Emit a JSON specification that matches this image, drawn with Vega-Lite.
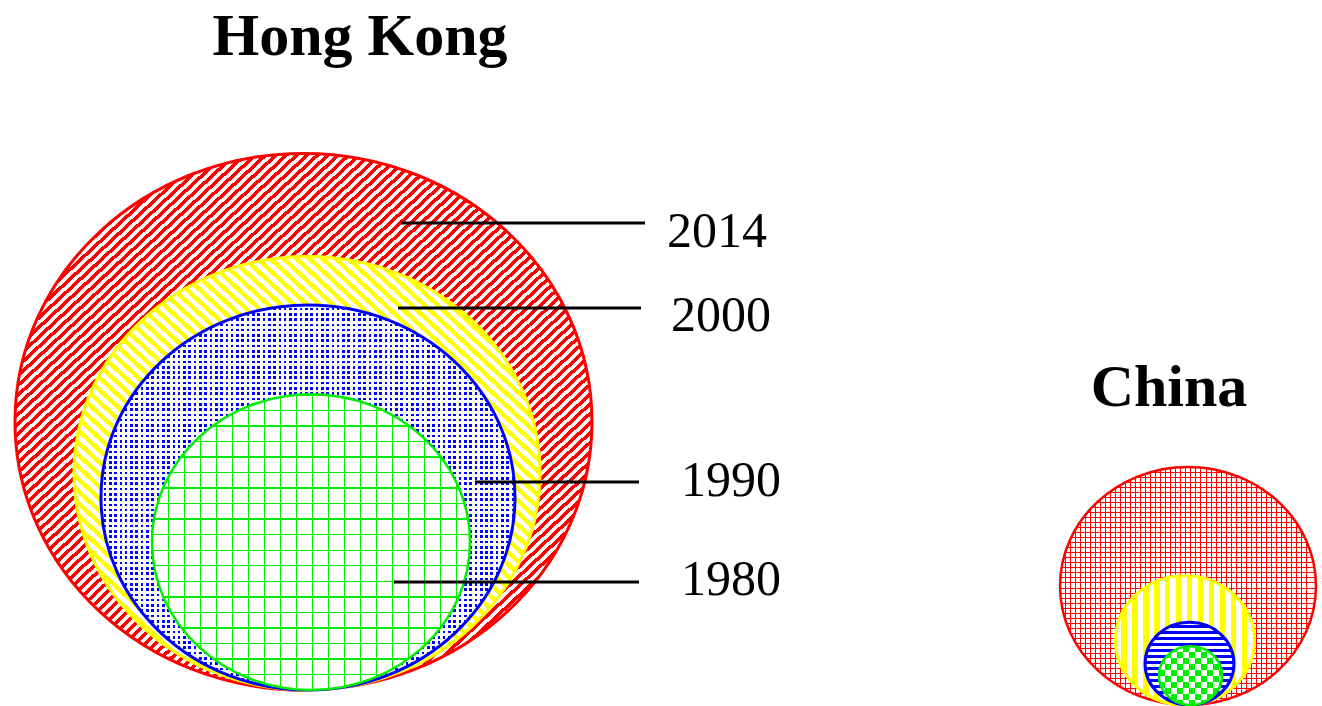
{
"$schema":"https://vega.github.io/schema/vega-lite/v6.json",
"width":1322,"height":706,"padding":0,"autosize":{"type":"none"},
"background":"white",
"config":{"view":{"stroke":null},"point":{"opacity":1},"tick":{"opacity":1}},
"params":[
{"name":"cw","expr":"'#ffffff'"},
{"name":"ct","expr":"'rgba(255,255,255,0)'"},
{"name":"cr","expr":"'#ff0000'"},
{"name":"cg","expr":"'#00ee00'"},
{"name":"W","expr":"[{offset:0,color:cw},{offset:.00625,color:cw},{offset:.00625,color:ct},{offset:.0125,color:ct},{offset:.0125,color:cw},{offset:.01875,color:cw},{offset:.01875,color:ct},{offset:.025,color:ct},{offset:.025,color:cw},{offset:.03125,color:cw},{offset:.03125,color:ct},{offset:.0375,color:ct},{offset:.0375,color:cw},{offset:.04375,color:cw},{offset:.04375,color:ct},{offset:.05,color:ct},{offset:.05,color:cw},{offset:.05625,color:cw},{offset:.05625,color:ct},{offset:.0625,color:ct},{offset:.0625,color:cw},{offset:.06875,color:cw},{offset:.06875,color:ct},{offset:.075,color:ct},{offset:.075,color:cw},{offset:.08125,color:cw},{offset:.08125,color:ct},{offset:.0875,color:ct},{offset:.0875,color:cw},{offset:.09375,color:cw},{offset:.09375,color:ct},{offset:.1,color:ct},{offset:.1,color:cw},{offset:.10625,color:cw},{offset:.10625,color:ct},{offset:.1125,color:ct},{offset:.1125,color:cw},{offset:.11875,color:cw},{offset:.11875,color:ct},{offset:.125,color:ct},{offset:.125,color:cw},{offset:.13125,color:cw},{offset:.13125,color:ct},{offset:.1375,color:ct},{offset:.1375,color:cw},{offset:.14375,color:cw},{offset:.14375,color:ct},{offset:.15,color:ct},{offset:.15,color:cw},{offset:.15625,color:cw},{offset:.15625,color:ct},{offset:.1625,color:ct},{offset:.1625,color:cw},{offset:.16875,color:cw},{offset:.16875,color:ct},{offset:.175,color:ct},{offset:.175,color:cw},{offset:.18125,color:cw},{offset:.18125,color:ct},{offset:.1875,color:ct},{offset:.1875,color:cw},{offset:.19375,color:cw},{offset:.19375,color:ct},{offset:.2,color:ct},{offset:.2,color:cw},{offset:.20625,color:cw},{offset:.20625,color:ct},{offset:.2125,color:ct},{offset:.2125,color:cw},{offset:.21875,color:cw},{offset:.21875,color:ct},{offset:.225,color:ct},{offset:.225,color:cw},{offset:.23125,color:cw},{offset:.23125,color:ct},{offset:.2375,color:ct},{offset:.2375,color:cw},{offset:.24375,color:cw},{offset:.24375,color:ct},{offset:.25,color:ct},{offset:.25,color:cw},{offset:.25625,color:cw},{offset:.25625,color:ct},{offset:.2625,color:ct},{offset:.2625,color:cw},{offset:.26875,color:cw},{offset:.26875,color:ct},{offset:.275,color:ct},{offset:.275,color:cw},{offset:.28125,color:cw},{offset:.28125,color:ct},{offset:.2875,color:ct},{offset:.2875,color:cw},{offset:.29375,color:cw},{offset:.29375,color:ct},{offset:.3,color:ct},{offset:.3,color:cw},{offset:.30625,color:cw},{offset:.30625,color:ct},{offset:.3125,color:ct},{offset:.3125,color:cw},{offset:.31875,color:cw},{offset:.31875,color:ct},{offset:.325,color:ct},{offset:.325,color:cw},{offset:.33125,color:cw},{offset:.33125,color:ct},{offset:.3375,color:ct},{offset:.3375,color:cw},{offset:.34375,color:cw},{offset:.34375,color:ct},{offset:.35,color:ct},{offset:.35,color:cw},{offset:.35625,color:cw},{offset:.35625,color:ct},{offset:.3625,color:ct},{offset:.3625,color:cw},{offset:.36875,color:cw},{offset:.36875,color:ct},{offset:.375,color:ct},{offset:.375,color:cw},{offset:.38125,color:cw},{offset:.38125,color:ct},{offset:.3875,color:ct},{offset:.3875,color:cw},{offset:.39375,color:cw},{offset:.39375,color:ct},{offset:.4,color:ct},{offset:.4,color:cw},{offset:.40625,color:cw},{offset:.40625,color:ct},{offset:.4125,color:ct},{offset:.4125,color:cw},{offset:.41875,color:cw},{offset:.41875,color:ct},{offset:.425,color:ct},{offset:.425,color:cw},{offset:.43125,color:cw},{offset:.43125,color:ct},{offset:.4375,color:ct},{offset:.4375,color:cw},{offset:.44375,color:cw},{offset:.44375,color:ct},{offset:.45,color:ct},{offset:.45,color:cw},{offset:.45625,color:cw},{offset:.45625,color:ct},{offset:.4625,color:ct},{offset:.4625,color:cw},{offset:.46875,color:cw},{offset:.46875,color:ct},{offset:.475,color:ct},{offset:.475,color:cw},{offset:.48125,color:cw},{offset:.48125,color:ct},{offset:.4875,color:ct},{offset:.4875,color:cw},{offset:.49375,color:cw},{offset:.49375,color:ct},{offset:.5,color:ct},{offset:.5,color:cw},{offset:.50625,color:cw},{offset:.50625,color:ct},{offset:.5125,color:ct},{offset:.5125,color:cw},{offset:.51875,color:cw},{offset:.51875,color:ct},{offset:.525,color:ct},{offset:.525,color:cw},{offset:.53125,color:cw},{offset:.53125,color:ct},{offset:.5375,color:ct},{offset:.5375,color:cw},{offset:.54375,color:cw},{offset:.54375,color:ct},{offset:.55,color:ct},{offset:.55,color:cw},{offset:.55625,color:cw},{offset:.55625,color:ct},{offset:.5625,color:ct},{offset:.5625,color:cw},{offset:.56875,color:cw},{offset:.56875,color:ct},{offset:.575,color:ct},{offset:.575,color:cw},{offset:.58125,color:cw},{offset:.58125,color:ct},{offset:.5875,color:ct},{offset:.5875,color:cw},{offset:.59375,color:cw},{offset:.59375,color:ct},{offset:.6,color:ct},{offset:.6,color:cw},{offset:.60625,color:cw},{offset:.60625,color:ct},{offset:.6125,color:ct},{offset:.6125,color:cw},{offset:.61875,color:cw},{offset:.61875,color:ct},{offset:.625,color:ct},{offset:.625,color:cw},{offset:.63125,color:cw},{offset:.63125,color:ct},{offset:.6375,color:ct},{offset:.6375,color:cw},{offset:.64375,color:cw},{offset:.64375,color:ct},{offset:.65,color:ct},{offset:.65,color:cw},{offset:.65625,color:cw},{offset:.65625,color:ct},{offset:.6625,color:ct},{offset:.6625,color:cw},{offset:.66875,color:cw},{offset:.66875,color:ct},{offset:.675,color:ct},{offset:.675,color:cw},{offset:.68125,color:cw},{offset:.68125,color:ct},{offset:.6875,color:ct},{offset:.6875,color:cw},{offset:.69375,color:cw},{offset:.69375,color:ct},{offset:.7,color:ct},{offset:.7,color:cw},{offset:.70625,color:cw},{offset:.70625,color:ct},{offset:.7125,color:ct},{offset:.7125,color:cw},{offset:.71875,color:cw},{offset:.71875,color:ct},{offset:.725,color:ct},{offset:.725,color:cw},{offset:.73125,color:cw},{offset:.73125,color:ct},{offset:.7375,color:ct},{offset:.7375,color:cw},{offset:.74375,color:cw},{offset:.74375,color:ct},{offset:.75,color:ct},{offset:.75,color:cw},{offset:.75625,color:cw},{offset:.75625,color:ct},{offset:.7625,color:ct},{offset:.7625,color:cw},{offset:.76875,color:cw},{offset:.76875,color:ct},{offset:.775,color:ct},{offset:.775,color:cw},{offset:.78125,color:cw},{offset:.78125,color:ct},{offset:.7875,color:ct},{offset:.7875,color:cw},{offset:.79375,color:cw},{offset:.79375,color:ct},{offset:.8,color:ct},{offset:.8,color:cw},{offset:.80625,color:cw},{offset:.80625,color:ct},{offset:.8125,color:ct},{offset:.8125,color:cw},{offset:.81875,color:cw},{offset:.81875,color:ct},{offset:.825,color:ct},{offset:.825,color:cw},{offset:.83125,color:cw},{offset:.83125,color:ct},{offset:.8375,color:ct},{offset:.8375,color:cw},{offset:.84375,color:cw},{offset:.84375,color:ct},{offset:.85,color:ct},{offset:.85,color:cw},{offset:.85625,color:cw},{offset:.85625,color:ct},{offset:.8625,color:ct},{offset:.8625,color:cw},{offset:.86875,color:cw},{offset:.86875,color:ct},{offset:.875,color:ct},{offset:.875,color:cw},{offset:.88125,color:cw},{offset:.88125,color:ct},{offset:.8875,color:ct},{offset:.8875,color:cw},{offset:.89375,color:cw},{offset:.89375,color:ct},{offset:.9,color:ct},{offset:.9,color:cw},{offset:.90625,color:cw},{offset:.90625,color:ct},{offset:.9125,color:ct},{offset:.9125,color:cw},{offset:.91875,color:cw},{offset:.91875,color:ct},{offset:.925,color:ct},{offset:.925,color:cw},{offset:.93125,color:cw},{offset:.93125,color:ct},{offset:.9375,color:ct},{offset:.9375,color:cw},{offset:.94375,color:cw},{offset:.94375,color:ct},{offset:.95,color:ct},{offset:.95,color:cw},{offset:.95625,color:cw},{offset:.95625,color:ct},{offset:.9625,color:ct},{offset:.9625,color:cw},{offset:.96875,color:cw},{offset:.96875,color:ct},{offset:.975,color:ct},{offset:.975,color:cw},{offset:.98125,color:cw},{offset:.98125,color:ct},{offset:.9875,color:ct},{offset:.9875,color:cw},{offset:.99375,color:cw},{offset:.99375,color:ct},{offset:1,color:ct}]"},
{"name":"K1","expr":"[{offset:0,color:cr},{offset:.004,color:cr},{offset:.004,color:ct},{offset:.02,color:ct},{offset:.02,color:cr},{offset:.024,color:cr},{offset:.024,color:ct},{offset:.04,color:ct},{offset:.04,color:cr},{offset:.044,color:cr},{offset:.044,color:ct},{offset:.06,color:ct},{offset:.06,color:cr},{offset:.064,color:cr},{offset:.064,color:ct},{offset:.08,color:ct},{offset:.08,color:cr},{offset:.084,color:cr},{offset:.084,color:ct},{offset:.1,color:ct},{offset:.1,color:cr},{offset:.104,color:cr},{offset:.104,color:ct},{offset:.12,color:ct},{offset:.12,color:cr},{offset:.124,color:cr},{offset:.124,color:ct},{offset:.14,color:ct},{offset:.14,color:cr},{offset:.144,color:cr},{offset:.144,color:ct},{offset:.16,color:ct},{offset:.16,color:cr},{offset:.164,color:cr},{offset:.164,color:ct},{offset:.18,color:ct},{offset:.18,color:cr},{offset:.184,color:cr},{offset:.184,color:ct},{offset:.2,color:ct},{offset:.2,color:cr},{offset:.204,color:cr},{offset:.204,color:ct},{offset:.22,color:ct},{offset:.22,color:cr},{offset:.224,color:cr},{offset:.224,color:ct},{offset:.24,color:ct},{offset:.24,color:cr},{offset:.244,color:cr},{offset:.244,color:ct},{offset:.26,color:ct},{offset:.26,color:cr},{offset:.264,color:cr},{offset:.264,color:ct},{offset:.28,color:ct},{offset:.28,color:cr},{offset:.284,color:cr},{offset:.284,color:ct},{offset:.3,color:ct},{offset:.3,color:cr},{offset:.304,color:cr},{offset:.304,color:ct},{offset:.32,color:ct},{offset:.32,color:cr},{offset:.324,color:cr},{offset:.324,color:ct},{offset:.34,color:ct},{offset:.34,color:cr},{offset:.344,color:cr},{offset:.344,color:ct},{offset:.36,color:ct},{offset:.36,color:cr},{offset:.364,color:cr},{offset:.364,color:ct},{offset:.38,color:ct},{offset:.38,color:cr},{offset:.384,color:cr},{offset:.384,color:ct},{offset:.4,color:ct},{offset:.4,color:cr},{offset:.404,color:cr},{offset:.404,color:ct},{offset:.42,color:ct},{offset:.42,color:cr},{offset:.424,color:cr},{offset:.424,color:ct},{offset:.44,color:ct},{offset:.44,color:cr},{offset:.444,color:cr},{offset:.444,color:ct},{offset:.46,color:ct},{offset:.46,color:cr},{offset:.464,color:cr},{offset:.464,color:ct},{offset:.48,color:ct},{offset:.48,color:cr},{offset:.484,color:cr},{offset:.484,color:ct},{offset:.5,color:ct},{offset:.5,color:cr},{offset:.504,color:cr},{offset:.504,color:ct},{offset:.52,color:ct},{offset:.52,color:cr},{offset:.524,color:cr},{offset:.524,color:ct},{offset:.54,color:ct},{offset:.54,color:cr},{offset:.544,color:cr},{offset:.544,color:ct},{offset:.56,color:ct},{offset:.56,color:cr},{offset:.564,color:cr},{offset:.564,color:ct},{offset:.58,color:ct},{offset:.58,color:cr},{offset:.584,color:cr},{offset:.584,color:ct},{offset:.6,color:ct},{offset:.6,color:cr},{offset:.604,color:cr},{offset:.604,color:ct},{offset:.62,color:ct},{offset:.62,color:cr},{offset:.624,color:cr},{offset:.624,color:ct},{offset:.64,color:ct},{offset:.64,color:cr},{offset:.644,color:cr},{offset:.644,color:ct},{offset:.66,color:ct},{offset:.66,color:cr},{offset:.664,color:cr},{offset:.664,color:ct},{offset:.68,color:ct},{offset:.68,color:cr},{offset:.684,color:cr},{offset:.684,color:ct},{offset:.7,color:ct},{offset:.7,color:cr},{offset:.704,color:cr},{offset:.704,color:ct},{offset:.72,color:ct},{offset:.72,color:cr},{offset:.724,color:cr},{offset:.724,color:ct},{offset:.74,color:ct},{offset:.74,color:cr},{offset:.744,color:cr},{offset:.744,color:ct},{offset:.76,color:ct},{offset:.76,color:cr},{offset:.764,color:cr},{offset:.764,color:ct},{offset:.78,color:ct},{offset:.78,color:cr},{offset:.784,color:cr},{offset:.784,color:ct},{offset:.8,color:ct},{offset:.8,color:cr},{offset:.804,color:cr},{offset:.804,color:ct},{offset:.82,color:ct},{offset:.82,color:cr},{offset:.824,color:cr},{offset:.824,color:ct},{offset:.84,color:ct},{offset:.84,color:cr},{offset:.844,color:cr},{offset:.844,color:ct},{offset:.86,color:ct},{offset:.86,color:cr},{offset:.864,color:cr},{offset:.864,color:ct},{offset:.88,color:ct},{offset:.88,color:cr},{offset:.884,color:cr},{offset:.884,color:ct},{offset:.9,color:ct},{offset:.9,color:cr},{offset:.904,color:cr},{offset:.904,color:ct},{offset:.92,color:ct},{offset:.92,color:cr},{offset:.924,color:cr},{offset:.924,color:ct},{offset:.94,color:ct},{offset:.94,color:cr},{offset:.944,color:cr},{offset:.944,color:ct},{offset:.96,color:ct},{offset:.96,color:cr},{offset:.964,color:cr},{offset:.964,color:ct},{offset:.98,color:ct},{offset:.98,color:cr},{offset:.984,color:cr},{offset:.984,color:ct},{offset:1,color:ct}]"},
{"name":"K2","expr":"[{offset:0,color:cg},{offset:.0045,color:cg},{offset:.0045,color:ct},{offset:.05,color:ct},{offset:.05,color:cg},{offset:.0545,color:cg},{offset:.0545,color:ct},{offset:.1,color:ct},{offset:.1,color:cg},{offset:.1045,color:cg},{offset:.1045,color:ct},{offset:.15,color:ct},{offset:.15,color:cg},{offset:.1545,color:cg},{offset:.1545,color:ct},{offset:.2,color:ct},{offset:.2,color:cg},{offset:.2045,color:cg},{offset:.2045,color:ct},{offset:.25,color:ct},{offset:.25,color:cg},{offset:.2545,color:cg},{offset:.2545,color:ct},{offset:.3,color:ct},{offset:.3,color:cg},{offset:.3045,color:cg},{offset:.3045,color:ct},{offset:.35,color:ct},{offset:.35,color:cg},{offset:.3545,color:cg},{offset:.3545,color:ct},{offset:.4,color:ct},{offset:.4,color:cg},{offset:.4045,color:cg},{offset:.4045,color:ct},{offset:.45,color:ct},{offset:.45,color:cg},{offset:.4545,color:cg},{offset:.4545,color:ct},{offset:.5,color:ct},{offset:.5,color:cg},{offset:.5045,color:cg},{offset:.5045,color:ct},{offset:.55,color:ct},{offset:.55,color:cg},{offset:.5545,color:cg},{offset:.5545,color:ct},{offset:.6,color:ct},{offset:.6,color:cg},{offset:.6045,color:cg},{offset:.6045,color:ct},{offset:.65,color:ct},{offset:.65,color:cg},{offset:.6545,color:cg},{offset:.6545,color:ct},{offset:.7,color:ct},{offset:.7,color:cg},{offset:.7045,color:cg},{offset:.7045,color:ct},{offset:.75,color:ct},{offset:.75,color:cg},{offset:.7545,color:cg},{offset:.7545,color:ct},{offset:.8,color:ct},{offset:.8,color:cg},{offset:.8045,color:cg},{offset:.8045,color:ct},{offset:.85,color:ct},{offset:.85,color:cg},{offset:.8545,color:cg},{offset:.8545,color:ct},{offset:.9,color:ct},{offset:.9,color:cg},{offset:.9045,color:cg},{offset:.9045,color:ct},{offset:.95,color:ct},{offset:.95,color:cg},{offset:.9545,color:cg},{offset:.9545,color:ct},{offset:1,color:ct}]"}
],
"data":{"values":[
{"country":"Hong Kong","year":2014,"value":332.9},
{"country":"Hong Kong","year":2000,"value":217.2},
{"country":"Hong Kong","year":1990,"value":171.4},
{"country":"Hong Kong","year":1980,"value":101.1},
{"country":"China","year":2014,"value":65.5},
{"country":"China","year":2000,"value":19.3},
{"country":"China","year":1990,"value":7.9},
{"country":"China","year":1980,"value":4.0}
]},
"layer":[
{"encoding":{
 "x":{"field":"country","type":"nominal","scale":{"type":"point","domain":["Hong Kong","China"],"range":[306,1188],"padding":0},"axis":null},
 "y":{"field":"country","type":"nominal","scale":{"type":"point","domain":["Hong Kong","China"],"range":[690,705],"padding":0},"axis":null},
 "size":{"field":"value","type":"quantitative","scale":{"type":"linear","domain":[0,1000],"range":[0,1000000]},"legend":null},
 "shape":{"value":"M-1,-.93A1,.93,0,1,0,1,-.93A1,.93,0,1,0,-1,-.93Z"}
},
"layer":[
{"transform":[{"filter":"datum.country=='Hong Kong'&&datum.year==2014"}],"mark":{"type":"point","filled":true,"fill":"#ff0000","xOffset":-2.5}},
{"transform":[{"filter":"datum.country=='Hong Kong'&&datum.year==2014"}],"mark":{"type":"point","filled":true,"xOffset":-2.5,"fill":{"expr":"{gradient:'linear',x1:.14,y1:.14,x2:.86,y2:.86,stops:W}"},"stroke":"#ff0000","strokeWidth":3}},
{"transform":[{"filter":"datum.country=='Hong Kong'&&datum.year==2000"}],"mark":{"type":"point","filled":true,"fill":"#ffff00","xOffset":1}},
{"transform":[{"filter":"datum.country=='Hong Kong'&&datum.year==2000"}],"mark":{"type":"point","filled":true,"xOffset":1,"fill":{"expr":"{gradient:'linear',x1:.14,y1:.86,x2:1.256,y2:-.256,stops:W}"},"stroke":"#ffff00","strokeWidth":3}},
{"transform":[{"filter":"datum.country=='Hong Kong'&&datum.year==1990"}],"mark":{"type":"point","filled":true,"fill":"#0000ff","xOffset":2}},
{"transform":[{"filter":"datum.country=='Hong Kong'&&datum.year==1990"}],"mark":{"type":"point","filled":true,"xOffset":2,"fill":{"expr":"{gradient:'linear',x1:0,y1:0,x2:1.024,y2:0,stops:W}"}}},
{"transform":[{"filter":"datum.country=='Hong Kong'&&datum.year==1990"}],"mark":{"type":"point","filled":true,"xOffset":2,"fill":{"expr":"{gradient:'linear',x1:.5,y1:0,x2:.5,y2:1.1,stops:W}"},"stroke":"#0000ff","strokeWidth":3}},
{"transform":[{"filter":"datum.country=='Hong Kong'&&datum.year==1980"}],"mark":{"type":"point","filled":true,"fill":"#ffffff","xOffset":5}},
{"transform":[{"filter":"datum.country=='Hong Kong'&&datum.year==1980"}],"mark":{"type":"point","filled":true,"xOffset":5,"fill":{"expr":"{gradient:'linear',x1:0,y1:0,x2:1.006,y2:0,stops:K2}"}}},
{"transform":[{"filter":"datum.country=='Hong Kong'&&datum.year==1980"}],"mark":{"type":"point","filled":true,"xOffset":5,"fill":{"expr":"{gradient:'linear',x1:.5,y1:0,x2:.5,y2:1.05,stops:K2}"},"stroke":"#00ee00","strokeWidth":2.5}},
{"transform":[{"filter":"datum.country=='China'&&datum.year==2014"}],"mark":{"type":"point","filled":true,"fill":"#ffffff"}},
{"transform":[{"filter":"datum.country=='China'&&datum.year==2014"}],"mark":{"type":"point","filled":true,"fill":{"expr":"{gradient:'linear',x1:0,y1:0,x2:.98,y2:0,stops:K1}"}}},
{"transform":[{"filter":"datum.country=='China'&&datum.year==2014"}],"mark":{"type":"point","filled":true,"fill":{"expr":"{gradient:'linear',x1:.5,y1:0,x2:.5,y2:1.055,stops:K1}"},"stroke":"#ff0000","strokeWidth":2.5}},
{"transform":[{"filter":"datum.country=='China'&&datum.year==2000"}],"mark":{"type":"point","filled":true,"fill":"#ffff00","xOffset":-3}},
{"transform":[{"filter":"datum.country=='China'&&datum.year==2000"}],"mark":{"type":"point","filled":true,"xOffset":-3,"fill":{"expr":"{gradient:'linear',x1:0,y1:0,x2:6.33,y2:0,stops:W}"},"stroke":"#ffff00","strokeWidth":3}},
{"transform":[{"filter":"datum.country=='China'&&datum.year==1990"}],"mark":{"type":"point","filled":true,"fill":"#0000ff","xOffset":1.5}},
{"transform":[{"filter":"datum.country=='China'&&datum.year==1990"}],"mark":{"type":"point","filled":true,"xOffset":1.5,"fill":{"expr":"{gradient:'linear',x1:.5,y1:0,x2:.5,y2:5.8,stops:W}"},"stroke":"#0000ff","strokeWidth":3}},
{"transform":[{"filter":"datum.country=='China'&&datum.year==1980"}],"mark":{"type":"point","filled":true,"fill":"#000000","xOffset":2.5}},
{"transform":[{"filter":"datum.country=='China'&&datum.year==1980"}],"mark":{"type":"point","filled":true,"xOffset":2.5,"fill":{"expr":"{gradient:'linear',x1:0,y1:0,x2:15.2,y2:0,stops:W}"}}},
{"transform":[{"filter":"datum.country=='China'&&datum.year==1980"}],"mark":{"type":"point","filled":true,"xOffset":2.5,"fill":{"expr":"{gradient:'linear',x1:.5,y1:0,x2:.5,y2:16.4,stops:W}"},"blend":"difference"}},
{"transform":[{"filter":"datum.country=='China'&&datum.year==1980"}],"mark":{"type":"point","filled":true,"xOffset":2.5,"fill":"#00ee00","blend":"screen"}},
{"transform":[{"filter":"datum.country=='China'&&datum.year==1980"}],"mark":{"type":"point","filled":false,"xOffset":2.5,"stroke":"#00ee00","strokeWidth":2.5}}
]},
{"transform":[{"filter":"datum.year==2014"}],
 "mark":{"type":"text","font":"Liberation Serif","fontWeight":"bold","fontSize":60,"align":"center","baseline":"alphabetic","color":"#000000"},
 "encoding":{
  "x":{"field":"country","type":"nominal","scale":{"type":"point","domain":["Hong Kong","China"],"range":[360,1169],"padding":0},"axis":null},
  "y":{"field":"country","type":"nominal","scale":{"type":"point","domain":["Hong Kong","China"],"range":[55,406],"padding":0},"axis":null},
  "text":{"field":"country","type":"nominal"}}},
{"transform":[{"filter":"datum.country=='Hong Kong'"}],
 "mark":{"type":"tick","orient":"horizontal","thickness":3,"color":"#000000","opacity":1},
 "encoding":{
  "x":{"field":"year","type":"quantitative","scale":{"domain":[1980,1990,2000,2014],"range":[516.5,557,519.5,523]},"axis":null},
  "y":{"field":"year","type":"quantitative","scale":{"domain":[1980,1990,2000,2014],"range":[582,482,308,223]},"axis":null},
  "size":{"field":"year","type":"quantitative","scale":{"domain":[1980,1990,2000,2014],"range":[245,164,243,244]},"legend":null}}},
{"transform":[{"filter":"datum.country=='Hong Kong'"}],
 "mark":{"type":"text","font":"Liberation Serif","fontSize":50,"align":"left","baseline":"alphabetic","color":"#000000"},
 "encoding":{
  "x":{"field":"year","type":"quantitative","scale":{"domain":[1980,1990,2000,2014],"range":[681,681,671,667]},"axis":null},
  "y":{"field":"year","type":"quantitative","scale":{"domain":[1980,1990,2000,2014],"range":[595,496,331,247]},"axis":null},
  "text":{"field":"year","type":"nominal"}}}
],
"resolve":{"scale":{"x":"independent","y":"independent","size":"independent"}}
}
